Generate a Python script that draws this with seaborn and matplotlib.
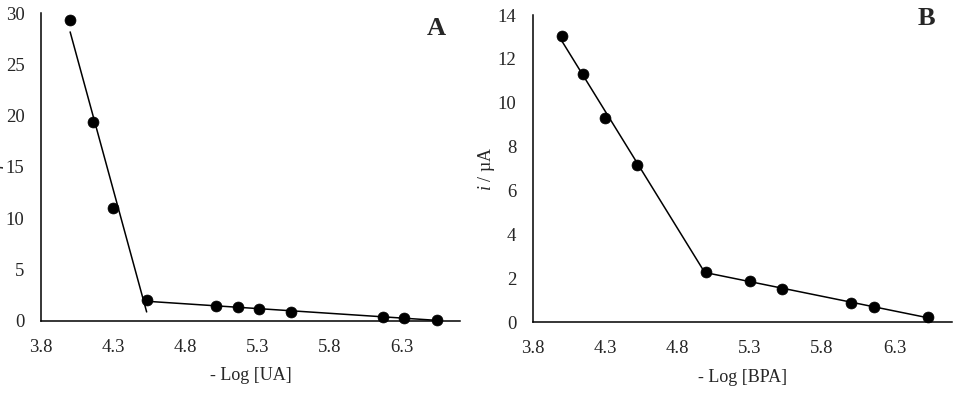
import numpy as np
import pandas as pd
import seaborn as sns
from matplotlib import pyplot as plt

# datos
ua_x = [4.00, 4.16, 4.30, 4.53, 5.01, 5.16, 5.31, 5.53, 6.17, 6.31, 6.54]
ua_y = [29.3, 19.35, 11.0, 2.0, 1.45, 1.3, 1.1, 0.9, 0.4, 0.25, 0.1]
ua_corte = 4  # los primeros 4 puntos forman el primer tramo

bpa_x = [4.00, 4.15, 4.30, 4.52, 5.00, 5.30, 5.52, 6.00, 6.16, 6.53]
bpa_y = [13.05, 11.3, 9.3, 7.15, 2.3, 1.87, 1.5, 0.9, 0.68, 0.26]
bpa_corte = 5

x_ticks = [3.8, 4.3, 4.8, 5.3, 5.8, 6.3]

sns.set_style("white")
plt.rcParams['font.family'] = ['Liberation Serif', 'DejaVu Serif']
plt.rcParams['mathtext.fontset'] = 'custom'
plt.rcParams['mathtext.it'] = 'Liberation Serif:italic'
plt.rcParams['mathtext.rm'] = 'Liberation Serif'

fig = plt.figure(figsize=(9.6, 3.96), dpi=100)
ax1 = fig.add_axes([0.043, 0.190, 0.436, 0.777])
ax2 = fig.add_axes([0.555, 0.186, 0.437, 0.776])


def panel(ax, xs, ys, corte, ylim, yticks, xlabel, letra, pos_letra):
    df = pd.DataFrame({'x': xs, 'y': ys})
    tramo1 = df.iloc[:corte]
    tramo2 = df.iloc[corte - 1:]
    for tramo in (tramo1, tramo2):
        sns.regplot(data=tramo, x='x', y='y', ax=ax, scatter=False, ci=None,
                    truncate=True, color='black', line_kws={'linewidth': 1.1})
    sns.scatterplot(data=df, x='x', y='y', ax=ax, color='black', s=62,
                    edgecolor='black', linewidth=0.5, zorder=3, clip_on=False)
    ax.set_xlim(3.8, 6.70)
    ax.set_ylim(*ylim)
    ax.set_xticks(x_ticks)
    ax.set_xticklabels([f'{t:.1f}' for t in x_ticks])
    ax.set_yticks(yticks)
    ax.tick_params(axis='both', length=0, labelsize=13.5)
    ax.tick_params(axis='y', pad=12)
    ax.tick_params(axis='x', pad=13)
    for s in ('top', 'right'):
        ax.spines[s].set_visible(False)
    for s in ('left', 'bottom'):
        ax.spines[s].set_color('black')
        ax.spines[s].set_linewidth(1.1)
    ax.set_xlabel(xlabel, fontsize=13, labelpad=8)
    ax.set_ylabel(r'$i$ / µA', fontsize=13, labelpad=0)
    ax.text(pos_letra[0], pos_letra[1], letra, transform=ax.transAxes,
            fontsize=19, fontweight='bold', ha='center', va='center')


panel(ax1, ua_x, ua_y, ua_corte, (0, 30), range(0, 31, 5), '- Log [UA]', 'A', (0.944, 0.951))
panel(ax2, bpa_x, bpa_y, bpa_corte, (0, 14), range(0, 15, 2), '- Log [BPA]', 'B', (0.938, 0.990))

fig.savefig('out.png', dpi=100)
